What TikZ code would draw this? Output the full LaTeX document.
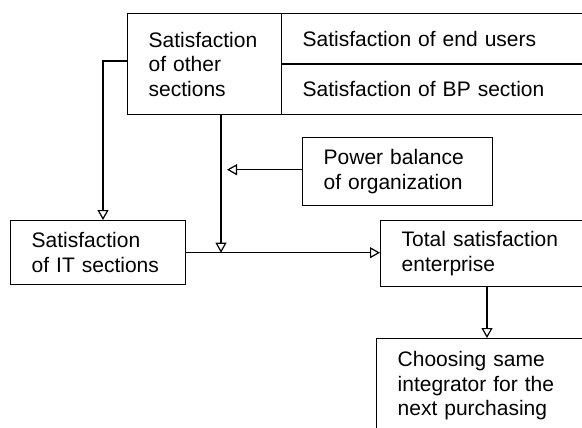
\documentclass[tikz,border=0pt]{standalone}
\usepackage{fontspec}
\setmainfont{Liberation Sans}
\usetikzlibrary{arrows.meta}
\tikzset{
  box/.style={draw, line width=1.4pt, rectangle, anchor=north west, inner xsep=21pt, inner ysep=0pt,
    align=left, font=\fontsize{21}{24.5}\selectfont},
  conn/.style={line width=1.4pt},
  arr/.style={conn, -{Triangle[open, length=10pt, width=11pt, line width=1.2pt]}}
}
\begin{document}
\begin{tikzpicture}[x=1pt, y=-1pt]
\useasboundingbox (0,0) rectangle (582,428);
\fill[white] (0,0) rectangle (582,428);
\clip (0,0) rectangle (582,428);

% boxes (the right-hand ones run past the edge)
\node[box, text width=112pt, minimum height=101pt] (other) at (127,13) {Satisfaction\\of other\\sections};
\node[box, text width=317pt, minimum height=50.5pt] (users) at (281,13) {Satisfaction of end users};
\node[box, text width=317pt, minimum height=50.5pt] (bp) at (281,63.5) {Satisfaction of BP section};
\node[box, text width=148pt, minimum height=68pt] (power) at (302,137) {Power balance\\of organization};
\node[box, text width=133pt, minimum height=64pt] (it) at (10,220) {Satisfaction\\of IT sections};
\node[box, text width=218pt, minimum height=66pt] (total) at (380,220) {Total satisfaction\\enterprise};
\node[box, text width=222pt, minimum height=94pt] (choose) at (376,338) {Choosing same\\integrator for the\\next purchasing};

% junction points on the connectors
\coordinate (join) at (221, 0 |- it.east);
\coordinate (pin) at (227, 0 |- power.west);
\coordinate (itin) at (103, 0 |- it.north);
\coordinate (dropx) at (487, 0 |- total.south);

% connectors
\draw[arr] ([yshift=3pt]other.west) -| (itin);
\draw[arr] (other.south -| join) -- (join);
\draw[arr] ([yshift=2pt]power.west) -- ([yshift=2pt]pin);
\draw[arr] (it.east) -- (it.east -| total.west);
\draw[arr] (dropx) -- (dropx |- choose.north);
\end{tikzpicture}
\end{document}
